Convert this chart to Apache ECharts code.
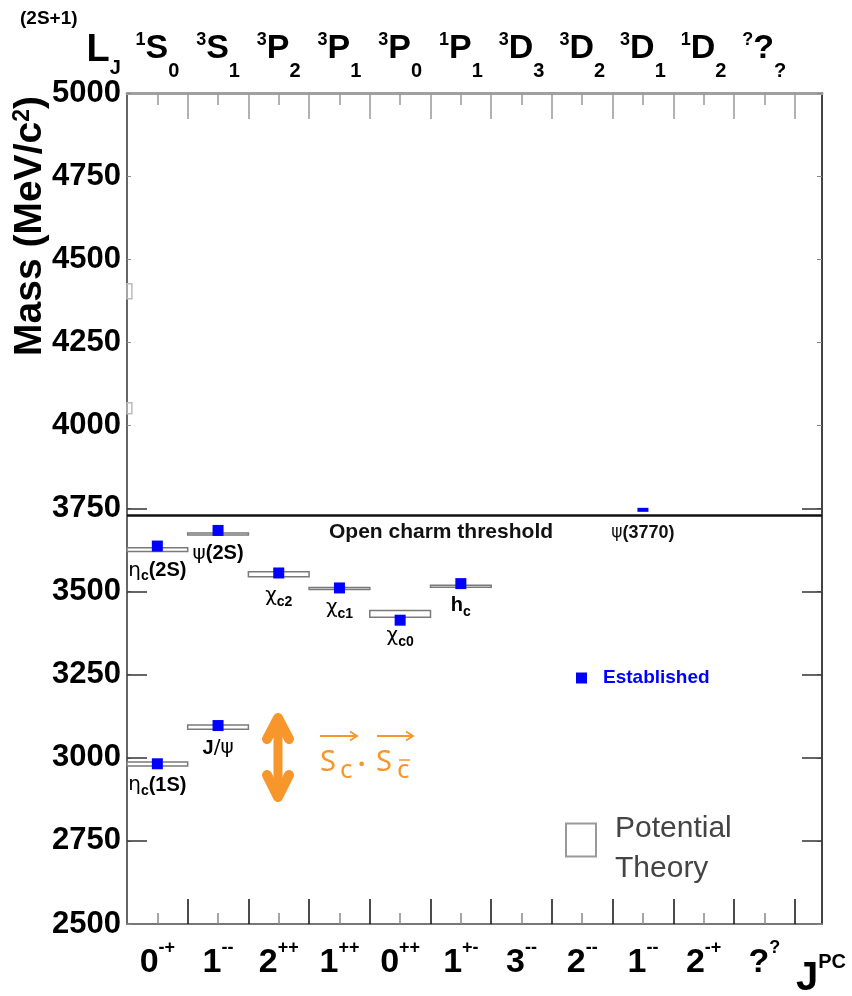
<!DOCTYPE html>
<html>
<head>
<meta charset="utf-8">
<script src="https://cdn.jsdelivr.net/npm/echarts@6/dist/echarts.min.js"></script>
<style>
  html, body { margin: 0; padding: 0; background: #fff; }
  #chart { width: 852px; height: 996px; }
</style>
</head>
<body>
<div id="chart"></div>
<script>
// J^PC labels under each column
const jpcJ = ['0', '1', '2', '1', '0', '1', '3', '2', '1', '2', '?'];
const jpcPC = ['-+', '--', '++', '++', '++', '+-', '--', '--', '--', '-+', '?'];
// (2S+1)L_J labels above each column
const spinMult = ['1', '3', '3', '3', '3', '1', '3', '3', '3', '1', '?'];
const orbitalL = ['S', 'S', 'P', 'P', 'P', 'P', 'D', 'D', 'D', 'D', '?'];
const totalJ = ['0', '1', '2', '1', '0', '1', '3', '2', '1', '2', '?'];

const massTicks = [2500, 2750, 3000, 3250, 3500, 3750, 4000, 4250, 4500, 4750, 5000];
const longTicks = [2750, 3000, 3250, 3500, 3750];
const boundaryTicks = [0.5, 1.5, 2.5, 3.5, 4.5, 5.5, 6.5, 7.5, 8.5, 9.5, 10.5];
const centerTicks = [0, 1, 2, 3, 4, 5, 6, 7, 8, 9, 10];

// established states (blue squares)
const estColumn = [0, 1, 0, 1, 2, 3, 4, 5, 8];
const estMass = [2982, 3097, 3637, 3684, 3556, 3511, 3414, 3524, 3746];

// potential model predictions (boxes)
const theoryColumn = [0, 1, 0, 1, 2, 3, 4, 5];
const theoryLow = [2975, 3086, 3621, 3671, 3545, 3507, 3423, 3514];
const theoryHigh = [2987, 3099, 3632, 3676, 3560, 3512, 3443, 3519];
const theoryLabel = [
  '{g|η}{s|c}{b|(1S)}', '{b|J}{g|/ψ}', '{g|η}{s|c}{b|(2S)}', '{g|ψ}{b|(2S)}',
  '{g|χ}{s|c2}', '{g|χ}{s|c1}', '{g|χ}{s|c0}', '{b|h}{s|c}'
];
// bits of higher boxes left over next to the axis
const faintLow = [4035, 4381];
const faintHigh = [4068, 4426];

const openCharmThreshold = 3730;

const ARIAL = "'Liberation Sans', Arial, sans-serif";
const ORANGE = '#f7962b';

// rich tokens are top aligned, padding-top moves each one down (sub/superscripts)
const tok = (size, padTop, extra) => Object.assign({
  fontFamily: ARIAL, fontWeight: 'bold', fontSize: size, color: '#000',
  verticalAlign: 'top', padding: [padTop, 0, 0, 0]
}, extra || {});

const nameRich = {
  g: tok(20, 0, { fontFamily: 'DejaVu Sans', fontWeight: 'normal', color: '#111', lineHeight: 30 }),
  b: tok(20, 0, { color: '#111', lineHeight: 30 }),
  s: tok(14, 9, { color: '#111', lineHeight: 30 })
};

const chart = echarts.init(document.getElementById('chart'));

const baseX = { type: 'value', min: -0.5, max: 10.95, gridIndex: 0, splitLine: { show: false } };
const baseY = { type: 'value', min: 2500, max: 5000, gridIndex: 0, splitLine: { show: false } };

const option = {
  animation: false,
  backgroundColor: '#fff',
  grid: { left: 127, right: 30, top: 93, bottom: 72 },
  xAxis: [
    {
      ...baseX, position: 'bottom',
      axisLine: { show: true, onZero: false, lineStyle: { color: '#777', width: 2 } },
      axisTick: { show: true, inside: true, length: 25, customValues: boundaryTicks, lineStyle: { color: '#111', width: 1.5 } },
      axisLabel: {
        customValues: centerTicks, margin: 4,
        formatter: v => { const i = Math.round(v); return '{n|' + jpcJ[i] + '}{p|' + jpcPC[i] + '}'; },
        rich: {
          n: tok(34, 18, { lineHeight: 60 }),
          p: tok(18, 11, { lineHeight: 60 })
        }
      }
    },
    {
      ...baseX, position: 'bottom',
      axisLine: { show: false, onZero: false },
      axisTick: { show: true, inside: true, length: 11, customValues: centerTicks, lineStyle: { color: '#888', width: 1.5 } },
      axisLabel: { show: false }
    },
    {
      ...baseX, position: 'top',
      axisLine: { show: true, onZero: false, lineStyle: { color: '#a0a0a0', width: 3 } },
      axisTick: { show: true, inside: true, length: 26, customValues: boundaryTicks, lineStyle: { color: '#999', width: 1.5 } },
      axisLabel: {
        customValues: centerTicks, margin: 10,
        formatter: v => { const i = Math.round(v); return '{u|' + spinMult[i] + '}{m|' + orbitalL[i] + '}{d|' + totalJ[i] + '}'; },
        rich: {
          u: tok(18, 8, { lineHeight: 60 }),
          m: tok(34, 9, { lineHeight: 60 }),
          d: tok(20, 38, { lineHeight: 60 })
        }
      }
    },
    {
      ...baseX, position: 'top',
      axisLine: { show: false, onZero: false },
      axisTick: { show: true, inside: true, length: 12, customValues: centerTicks, lineStyle: { color: '#999', width: 1.5 } },
      axisLabel: { show: false }
    }
  ],
  yAxis: [
    {
      ...baseY, position: 'left',
      axisLine: { show: true, onZero: false, lineStyle: { color: '#666', width: 2 } },
      axisTick: { show: true, inside: true, length: 4, customValues: massTicks, lineStyle: { color: '#888' } },
      axisLabel: {
        customValues: massTicks, margin: 6, formatter: v => String(v),
        fontFamily: ARIAL, fontWeight: 'bold', fontSize: 31, color: '#000'
      }
    },
    {
      ...baseY, position: 'left',
      axisLine: { show: false, onZero: false },
      axisTick: { show: true, inside: true, length: 20, customValues: longTicks, lineStyle: { color: '#333', width: 1.5 } },
      axisLabel: { show: false }
    },
    {
      ...baseY, position: 'right',
      axisLine: { show: true, onZero: false, lineStyle: { color: '#444', width: 2 } },
      axisTick: { show: true, inside: true, length: 5, customValues: massTicks, lineStyle: { color: '#888' } },
      axisLabel: { show: false }
    },
    {
      ...baseY, position: 'right',
      axisLine: { show: false, onZero: false },
      axisTick: { show: true, inside: true, length: 20, customValues: longTicks, lineStyle: { color: '#333', width: 1.5 } },
      axisLabel: { show: false }
    }
  ],
  legend: [
    {
      data: ['Established'], left: 571, top: 663, icon: 'rect',
      itemWidth: 11, itemHeight: 11,
      textStyle: { color: '#0000ff', fontFamily: ARIAL, fontWeight: 'bold', fontSize: 19, lineHeight: 20, padding: [0, 0, 0, 11] }
    },
    {
      data: [{ name: 'Potential Theory', icon: 'rect', itemStyle: { color: '#fff', borderColor: '#999', borderWidth: 2 } }],
      left: 560, top: 795, itemWidth: 30, itemHeight: 33,
      formatter: () => '{t|Potential}\n{t|Theory}',
      textStyle: {
        rich: {
          t: { color: '#444', fontFamily: ARIAL, fontSize: 30, lineHeight: 40, verticalAlign: 'top', padding: [14, 0, 0, 14] }
        }
      }
    }
  ],
  series: [
    {
      name: 'Potential Theory',
      type: 'custom',
      xAxisIndex: 0, yAxisIndex: 0,
      z: 2,
      data: theoryColumn.map((c, i) => [c, theoryLow[i], theoryHigh[i]]),
      renderItem: (params, api) => {
        const col = api.value(0);
        const p0 = api.coord([col - 0.5, api.value(2)]);
        const p1 = api.coord([col + 0.5, api.value(1)]);
        return {
          type: 'group',
          children: [
            {
              type: 'rect',
              shape: { x: p0[0], y: p0[1], width: p1[0] - p0[0], height: Math.max(p1[1] - p0[1], 2) },
              style: { fill: '#fff', stroke: '#7a7a7a', lineWidth: 1.5 }
            },
            {
              type: 'text',
              x: (p0[0] + p1[0]) / 2, y: p1[1] + 9,
              style: { text: theoryLabel[params.dataIndex], rich: nameRich, align: 'center', verticalAlign: 'top' }
            }
          ]
        };
      }
    },
    {
      name: 'faint',
      type: 'custom',
      xAxisIndex: 0, yAxisIndex: 0,
      z: 2, silent: true,
      data: faintLow.map((lo, i) => [lo, faintHigh[i]]),
      renderItem: (params, api) => {
        const p0 = api.coord([-0.5, api.value(1)]);
        const p1 = api.coord([-0.42, api.value(0)]);
        return {
          type: 'rect',
          shape: { x: p0[0], y: p0[1], width: p1[0] - p0[0], height: p1[1] - p0[1] },
          style: { fill: 'none', stroke: '#bbb', lineWidth: 1.5 }
        };
      }
    },
    {
      name: 'Established',
      type: 'scatter',
      xAxisIndex: 0, yAxisIndex: 0,
      z: 4,
      symbol: 'rect', symbolSize: 11,
      itemStyle: { color: '#0000ff', opacity: 1 },
      data: estColumn.map((c, i) => {
        if (c === 8) {
          return {
            value: [c, estMass[i]], symbolSize: [11, 4],
            label: {
              show: true, position: 'bottom', distance: 12,
              formatter: '{g|ψ}{b|(3770)}',
              rich: {
                g: { fontFamily: 'DejaVu Sans', fontSize: 17, color: '#111' },
                b: { fontFamily: ARIAL, fontWeight: 'bold', fontSize: 18, color: '#111' }
              }
            }
          };
        }
        return [c, estMass[i]];
      }),
      markLine: {
        silent: true, symbol: 'none',
        label: { show: false },
        lineStyle: { color: '#111', width: 2.5, type: 'solid' },
        data: [{ yAxis: openCharmThreshold }]
      }
    }
  ],
  graphic: [
    {
      type: 'text', x: 32, y: 226, rotation: Math.PI / 2,
      style: {
        text: '{a|Mass (MeV/c}{s|2}{a|)}', align: 'center', verticalAlign: 'middle',
        rich: {
          a: tok(39, 0, { lineHeight: 42 }),
          s: tok(23, 0, { lineHeight: 42 })
        }
      }
    },
    {
      type: 'text', x: 20, y: 0,
      style: {
        text: '{a|(2S+1)}{L|L}{j|J}', verticalAlign: 'top',
        rich: {
          a: tok(19, 9, { lineHeight: 80 }),
          L: tok(38, 32, { lineHeight: 80, padding: [32, 0, 0, 9] }),
          j: tok(20, 58, { lineHeight: 80 })
        }
      }
    },
    {
      type: 'text', x: 796, y: 926,
      style: {
        text: '{J|J}{p|PC}', verticalAlign: 'top',
        rich: {
          J: tok(40, 33, { lineHeight: 70 }),
          p: tok(20, 26, { lineHeight: 70 })
        }
      }
    },
    {
      type: 'text', x: 329, y: 532,
      style: { text: 'Open charm threshold', verticalAlign: 'middle', fontFamily: ARIAL, fontWeight: 'bold', fontSize: 21, fill: '#111' }
    },
    // orange double arrow
    {
      type: 'group',
      children: [
        { type: 'line', shape: { x1: 278, y1: 720, x2: 278, y2: 794 }, style: { stroke: ORANGE, lineWidth: 9 } },
        { type: 'polyline', shape: { points: [[267, 739], [278, 718], [289, 739]] }, style: { stroke: ORANGE, lineWidth: 10, lineCap: 'round', lineJoin: 'round', fill: null } },
        { type: 'polyline', shape: { points: [[267, 775], [278, 797], [289, 775]] }, style: { stroke: ORANGE, lineWidth: 10, lineCap: 'round', lineJoin: 'round', fill: null } }
      ]
    },
    // spin-spin term  S_c . S_cbar
    {
      type: 'group',
      children: [
        { type: 'text', x: 320, y: 763, style: { text: 'S', verticalAlign: 'middle', fontFamily: "'Noto Sans', sans-serif", fontSize: 29, fill: ORANGE } },
        { type: 'text', x: 340, y: 771, style: { text: 'c', verticalAlign: 'middle', fontFamily: "'Noto Sans', sans-serif", fontSize: 26, fill: ORANGE } },
        { type: 'text', x: 358, y: 766, style: { text: '·', verticalAlign: 'middle', fontFamily: "'Noto Sans', sans-serif", fontSize: 26, fontWeight: 'bold', fill: ORANGE } },
        { type: 'text', x: 376, y: 763, style: { text: 'S', verticalAlign: 'middle', fontFamily: "'Noto Sans', sans-serif", fontSize: 29, fill: ORANGE } },
        { type: 'text', x: 397, y: 771, style: { text: 'c', verticalAlign: 'middle', fontFamily: "'Noto Sans', sans-serif", fontSize: 26, fill: ORANGE } },
        { type: 'line', shape: { x1: 399, y1: 760, x2: 410, y2: 760 }, style: { stroke: ORANGE, lineWidth: 1.5 } },
        { type: 'line', shape: { x1: 320, y1: 736, x2: 356, y2: 736 }, style: { stroke: ORANGE, lineWidth: 2 } },
        { type: 'polyline', shape: { points: [[350, 731.5], [357, 736], [350, 740.5]] }, style: { stroke: ORANGE, lineWidth: 1.8, fill: null } },
        { type: 'line', shape: { x1: 377, y1: 736, x2: 412, y2: 736 }, style: { stroke: ORANGE, lineWidth: 2 } },
        { type: 'polyline', shape: { points: [[406, 731.5], [413, 736], [406, 740.5]] }, style: { stroke: ORANGE, lineWidth: 1.8, fill: null } }
      ]
    }
  ]
};

chart.setOption(option);
</script>
</body>
</html>
